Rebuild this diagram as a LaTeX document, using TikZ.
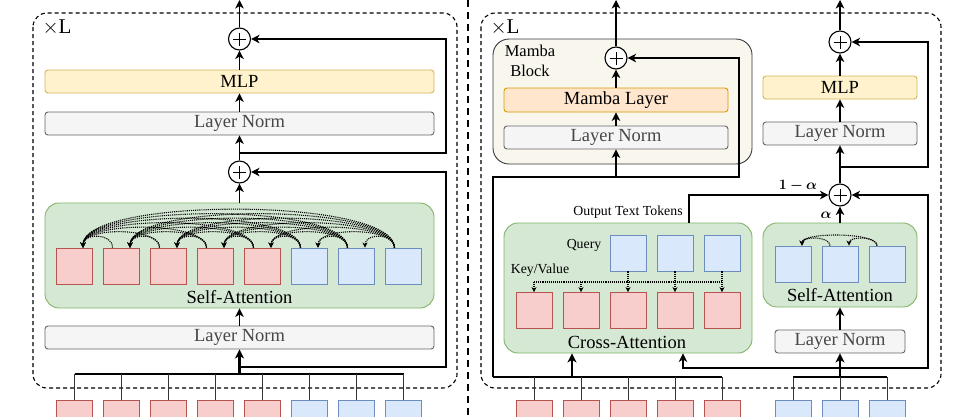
\documentclass[tikz,border=0pt]{standalone}
\usepackage{fontspec}
\setmainfont{Liberation Serif}
\usepackage{bm}
\usetikzlibrary{arrows.meta,positioning}
\definecolor{tokred}{HTML}{F8CECC}
\definecolor{tokredline}{HTML}{B85450}
\definecolor{tokblue}{HTML}{DAE8FC}
\definecolor{tokblueline}{HTML}{6C8EBF}
\definecolor{attgreen}{HTML}{D5E8D4}
\definecolor{attgreenline}{HTML}{82B366}
\definecolor{mlpyellow}{HTML}{FFF2CC}
\definecolor{mlpyellowline}{HTML}{D6B656}
\definecolor{normgray}{HTML}{F5F5F5}
\definecolor{normgrayline}{HTML}{666666}
\definecolor{mambaorange}{HTML}{FFE6CC}
\definecolor{mambaorangeline}{HTML}{D79B00}
\definecolor{blockbeige}{HTML}{F9F7ED}
\definecolor{blockbeigeline}{HTML}{36393D}
\newcommand\mainfs{\fontsize{18.5}{20}\selectfont}
\newcommand\smallfs{\fontsize{13.8}{16}\selectfont}
\tikzset{
  bar/.style={draw,rounded corners=3pt,minimum height=23pt,inner sep=0pt,line width=0.9pt},
  normbar/.style={bar,fill=normgray,draw=normgrayline,text=black!72},
  mlpbar/.style={bar,fill=mlpyellow,draw=mlpyellowline},
  mambabar/.style={bar,fill=mambaorange,draw=mambaorangeline},
  redtok/.style={draw=tokredline,fill=tokred,minimum size=36pt,inner sep=0pt,line width=0.9pt},
  bluetok/.style={draw=tokblueline,fill=tokblue,minimum size=36pt,inner sep=0pt,line width=0.9pt},
  attbox/.style={draw=attgreenline,fill=attgreen,rounded corners=14pt,inner sep=0pt,line width=0.9pt},
  layerbox/.style={draw,dashed,dash pattern=on 4pt off 3pt,rounded corners=14pt,line width=1.1pt},
  plus/.style={circle,draw,fill=white,minimum size=22pt,inner sep=0pt,line width=1.1pt,
    path picture={\draw[line width=0.9pt] ([xshift=-6.5pt]path picture bounding box.center) -- ([xshift=6.5pt]path picture bounding box.center)
      ([yshift=-6.5pt]path picture bounding box.center) -- ([yshift=6.5pt]path picture bounding box.center);}},
  flow/.style={line width=1.2pt,-{Stealth[length=8.5pt,width=8.5pt,inset=2.5pt]}},
  thickflow/.style={line width=2.2pt,-{Stealth[length=9pt,width=9pt,inset=2.5pt]}},
  busline/.style={line width=0.9pt,black!80},
  attn/.style={densely dotted,line width=1.1pt},
  attnarrow/.style={attn,-{Stealth[length=5pt,width=5pt]}}
}
\begin{document}
\begin{tikzpicture}[x=1pt,y=-1pt,every node/.style={font=\mainfs}]
  \useasboundingbox (0,0) rectangle (978,416);
  \clip (0,0) rectangle (978,416);
  \fill[white] (0,0) rectangle (978,416);

  % ---------- left: transformer layer ----------
  \draw[layerbox] (33,13) rectangle (457,388);
  \node[font=\fontsize{21}{22}\selectfont] (xLl) at (57,27) {$\times$L};
  \node[plus] (p1) at (239.5,39) {};
  \node[mlpbar,minimum width=389pt] (mlpL) at (239.5,81.5) {MLP};
  \node[normbar,minimum width=389pt] (normL1) at (239.5,123.5) {Layer Norm};
  \node[plus] (p2) at (239.5,172) {};
  \node[attbox,minimum width=389pt,minimum height=105pt] (saL) at (239.5,255.5) {};
  \node (saLlbl) at (239.5,297) {Self-Attention};
  \node[normbar,minimum width=389pt] (normL2) at (239.5,337.5) {Layer Norm};
  \foreach \i in {1,...,5}{
    \pgfmathsetmacro\x{74.5+47*(\i-1)}
    \node[redtok] (lt\i) at (\x,266) {};
    \node[redtok] (bl\i) at (\x,418) {};
  }
  \foreach \i in {6,7,8}{
    \pgfmathsetmacro\x{74.5+47*(\i-1)}
    \node[bluetok] (lt\i) at (\x,266) {};
    \node[bluetok] (bl\i) at (\x,418) {};
  }
  % causal attention arcs
  \foreach \j in {2,...,8}{
    \pgfmathtruncatemacro\jm{\j-1}
    \foreach \i in {1,...,\jm}{
      \pgfmathsetmacro\h{(11+4.5*(\j-\i-1))*4/3}
      \draw[attnarrow] ([xshift=-9pt]lt\j.north) .. controls +(0,-\h) and +(0,-\h) .. ([xshift=8.5pt]lt\i.north);
    }
  }
  \coordinate (outL) at (239.5,0);
  \coordinate (railL) at (446,0);
  \coordinate (tapL1) at (239.5,153);
  \coordinate (tapL2) at (239.5,367);
  \coordinate (busL) at (239.5,374);
  \draw[flow] (p1.north) -- (outL);
  \draw[flow] (mlpL.north) -- (p1.south);
  \draw[flow] (normL1.north) -- (mlpL.south);
  \draw[flow] (p2.north) -- (normL1.south);
  \draw[flow] (saL.north) -- (p2.south);
  \draw[flow] (normL2.north) -- (saL.south);
  \draw[flow] (tapL1) -- (tapL1 -| railL) -- (p1 -| railL) -- (p1.east);
  \draw[flow] (tapL2) -- (tapL2 -| railL) -- (p2 -| railL) -- (p2.east);
  \draw[line width=1.6pt] (bl1 |- busL) -- (bl8 |- busL);
  \foreach \i in {1,...,8}
    \draw[busline] (bl\i.north) -- (bl\i |- busL);
  \draw[thickflow] (busL) -- (normL2.south);

  % separator
  \draw[line width=2.6pt,dash pattern=on 7pt off 5pt] (468,0) -- (468,416);

  % ---------- right: hybrid layer ----------
  \draw[layerbox] (481,13) rectangle (941,388);
  \node[font=\fontsize{21}{22}\selectfont] (xLr) at (505,27) {$\times$L};
  % mamba block
  \draw[draw=blockbeigeline,fill=blockbeige,rounded corners=16pt,line width=0.9pt] (493,39) rectangle (752,164);
  \node[align=center,font=\fontsize{16.5}{20}\selectfont] (mblbl) at (530,61) {Mamba\\Block};
  \node[plus] (pm) at (616,58) {};
  \node[mambabar,minimum width=224pt,minimum height=24pt] (mamba) at (616,100) {Mamba Layer};
  \node[normbar,minimum width=224pt] (normM) at (616,137.5) {Layer Norm};
  % cross-attention
  \node[attbox,minimum width=248pt,minimum height=130pt] (ca) at (628,288) {};
  \node (calbl) at (627,342) {Cross-Attention};
  \node[font=\smallfs] (qlbl) at (584,245) {Query};
  \node[font=\smallfs] (kvlbl) at (540,270) {Key/Value};
  \node[font=\smallfs] (otlbl) at (628,212) {Output Text Tokens};
  \foreach \i/\x in {1/628,2/675,3/722}
    \node[bluetok] (q\i) at (\x,253) {};
  \foreach \i/\x in {1/534,2/581,3/628,4/675,5/722}{
    \node[redtok] (kv\i) at (\x,310.5) {};
    \node[redtok] (br\i) at (\x,418) {};
  }
  \coordinate (kvline) at (0,282);
  \draw[attn] (kv1 |- kvline) -- (kv5 |- kvline);
  \draw[attnarrow] (kv1 |- kvline) -- (kv1.north);
  \draw[attnarrow] (kv2 |- kvline) -- (kv2.north);
  \foreach \i/\k in {1/3,2/4,3/5}
    \draw[attnarrow] (q\i.south) -- (kv\k.north);
  % right self-attention
  \node[plus] (pc) at (840,195) {};
  \node[attbox,minimum width=154pt,minimum height=84pt] (saR) at (840,265) {};
  \node (saRlbl) at (840,295) {Self-Attention};
  \foreach \i/\x in {1/793,2/840,3/887}{
    \node[bluetok] (rs\i) at (\x,264) {};
    \node[bluetok] (bb\i) at (\x,418) {};
  }
  \draw[attnarrow] ([xshift=-10pt]rs2.north) .. controls +(0,-9.5) and +(0,-9.5) .. ([xshift=9pt]rs1.north);
  \draw[attnarrow] ([xshift=-10pt]rs3.north) .. controls +(0,-9.5) and +(0,-9.5) .. ([xshift=9pt]rs2.north);
  \draw[attnarrow] ([xshift=-10pt]rs3.north) .. controls +(0,-13.5) and +(0,-13.5) .. ([xshift=9pt]rs1.north);
  \node[normbar,minimum width=130pt] (normR2) at (840,341.5) {Layer Norm};
  \node[normbar,minimum width=154pt] (normR1) at (840,133.5) {Layer Norm};
  \node[mlpbar,minimum width=154pt] (mlpR) at (840,87.5) {MLP};
  \node[plus] (pr) at (840,42) {};
  \node[font=\smallfs] (omlbl) at (798,186) {$\bm{1-\alpha}$};
  \node[font=\smallfs] (albl) at (826,215) {$\bm{\alpha}$};

  \coordinate (outM) at (616,0);
  \coordinate (outR) at (840,0);
  \coordinate (railM) at (739,0);
  \coordinate (railMl) at (493,0);
  \coordinate (railR) at (928,0);
  \coordinate (tapM) at (616,177);
  \coordinate (tapR) at (840,167);
  \coordinate (tapB) at (840,368);
  \coordinate (busR) at (572,377);
  \coordinate (busB) at (840,377);
  \coordinate (qin) at (683,0);
  \coordinate (caout) at (689,0);
  % mamba path
  \draw[flow] (pm.north) -- (outM);
  \draw[flow] (mamba.north) -- (pm.south);
  \draw[flow] (normM.north) -- (mamba.south);
  \draw[flow] (tapM) -- (normM.south);
  \draw[flow] (busR -| railMl) -- (tapM -| railMl) -- (tapM -| railM) -- (pm -| railM) -- (pm.east);
  % red token bus
  \draw[line width=1.6pt] (busR -| railMl) -- (br5 |- busR);
  \foreach \i in {1,...,5}
    \draw[busline] (br\i.north) -- (br\i |- busR);
  \draw[thickflow] (busR) -- (busR |- ca.south);
  % blue token bus
  \draw[line width=1.6pt] (bb1 |- busB) -- (bb3 |- busB);
  \foreach \i in {1,2,3}
    \draw[busline] (bb\i.north) -- (bb\i |- busB);
  \draw[thickflow] (busB) -- (normR2.south);
  \draw[flow] (tapB) -- (tapB -| railR) -- (pc -| railR) -- (pc.east);
  \draw[flow] (tapB) -- (tapB -| qin) -- (qin |- ca.south);
  % merge and mlp
  \draw[flow] (ca.north -| caout) -- (pc -| caout) -- (pc.west);
  \draw[flow] (saR.north) -- (pc.south);
  \draw[flow] (normR2.north) -- (saR.south);
  \draw[flow] (pc.north) -- (normR1.south);
  \draw[flow] (normR1.north) -- (mlpR.south);
  \draw[flow] (mlpR.north) -- (pr.south);
  \draw[flow] (pr.north) -- (outR);
  \draw[flow] (tapR) -- (tapR -| railR) -- (pr -| railR) -- (pr.east);
\end{tikzpicture}
\end{document}
